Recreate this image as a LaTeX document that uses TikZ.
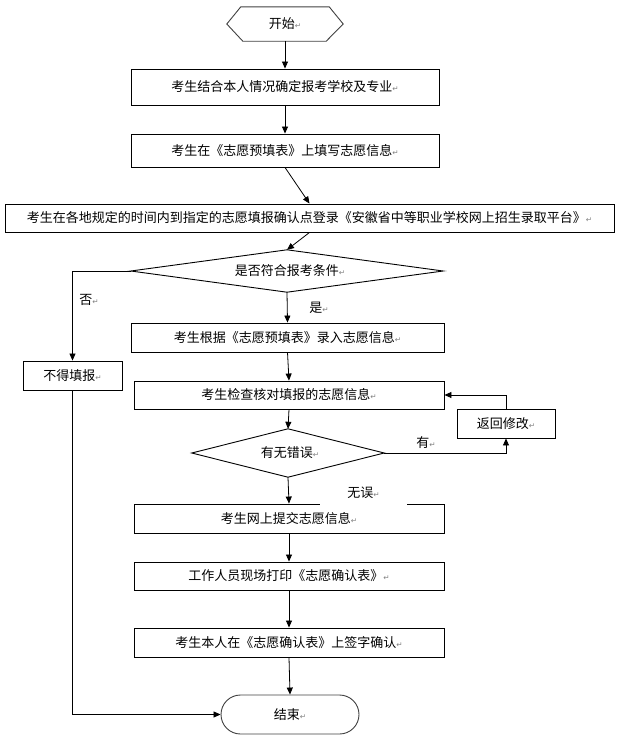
\documentclass[tikz,border=0pt]{standalone}
\usepackage{fontspec}
\setmainfont{Noto Sans CJK SC}
\newfontfamily\dvfont{DejaVu Sans}
\usetikzlibrary{arrows.meta}
\newcommand\pmk{{\dvfont\fontsize{7.5}{7.5}\selectfont\color{gray}↵}}
\tikzset{
  box/.style={draw, line width=0.9pt, inner sep=0pt, font=\fontsize{13}{15}\selectfont},
  dmd/.style={inner sep=0pt, font=\fontsize{13}{15}\selectfont},
  lbl/.style={inner sep=0pt, font=\fontsize{13}{15}\selectfont},
  arr/.style={line width=0.8pt, -{Triangle[length=7pt,width=6pt]}},
  ln/.style={line width=0.8pt}
}
\begin{document}
\begin{tikzpicture}[x=1pt,y=-1pt]
\useasboundingbox (0,0) rectangle (620,745);
% start hexagon
\node[dmd, minimum width=116pt, minimum height=34pt] (start) at (285,24) {开始\pmk};
\draw[line width=0.9pt, black!75] (start.west) -- ([xshift=14pt]start.north west) -- ([xshift=-14pt]start.north east) -- (start.east) -- ([xshift=-17pt]start.south east) -- ([xshift=16pt]start.south west) -- cycle;
% boxes
\node[box, minimum width=308pt, minimum height=36pt] (b1) at (285,87) {考生结合本人情况确定报考学校及专业\pmk};
\node[box, minimum width=308pt, minimum height=33pt] (b2) at (285,150.5) {考生在《志愿预填表》上填写志愿信息\pmk};
\node[box, minimum width=609pt, minimum height=28pt] (b4) at (309.5,218) {考生在各地规定的时间内到指定的志愿填报确认点登录《安徽省中等职业学校网上招生录取平台》\pmk};
% decision 1
\node[dmd, minimum width=312pt, minimum height=42pt] (d1) at (287,271) {};
\draw[line width=0.9pt] (d1.west) -- (d1.north) -- (d1.east) -- (d1.south) -- cycle;
\node[lbl] at (290,271) {是否符合报考条件\pmk};
\node[box, minimum width=313pt, minimum height=29pt] (b5) at (287.5,337.5) {考生根据《志愿预填表》录入志愿信息\pmk};
\node[box, minimum width=99pt, minimum height=29pt] (bno) at (72.5,375.5) {不得填报\pmk};
\node[box, minimum width=310pt, minimum height=28pt] (b6) at (289,395) {考生检查核对填报的志愿信息\pmk};
% decision 2
\node[dmd, minimum width=192pt, minimum height=48pt] (d2) at (288,453) {};
\draw[line width=0.9pt] (d2.west) -- (d2.north) -- (d2.east) -- (d2.south) -- cycle;
\node[lbl] at (290,453) {有无错误\pmk};
\node[box, minimum width=98pt, minimum height=29pt] (bret) at (506,423.5) {返回修改\pmk};
\node[box, minimum width=310pt, minimum height=29pt] (b7) at (289,518.5) {考生网上提交志愿信息\pmk};
\node[box, minimum width=310pt, minimum height=28pt] (b8) at (289,576) {工作人员现场打印《志愿确认表》\pmk};
\node[box, minimum width=310pt, minimum height=29pt] (b9) at (289,642.5) {考生本人在《志愿确认表》上签字确认\pmk};
\node[box, draw=black!75, minimum width=138pt, minimum height=39pt, rounded corners=19.5pt] (end) at (290,714.5) {结束\pmk};
% connectors
\draw[arr] (start.south) -- (b1.north);
\draw[arr] (b1.south) -- (b2.north);
\draw[arr] (b2.south) -- (b4.north);
\draw[arr] (b4.south) -- (d1.north);
\draw[arr] (d1.west) -| (bno.north);
\draw[arr] (d1.south) -- (b5.north);
\draw[arr] (b5.south) -- (b6.north);
\draw[arr] (b6.south) -- (d2.north);
\draw[arr] (d2.east) -| (bret.south);
\draw[arr] (bret.north) |- (b6.east);
\draw[arr] (d2.south) -- (b7.north);
\draw[arr] (b7.south) -- (b8.north);
\draw[arr] (b8.south) -- (b9.north);
\draw[arr] (b9.south) -- (end.north);
\draw[arr] (bno.south) |- (end.west);
% labels
\node[lbl] (lno) at (89,300) {否\pmk};
\node[lbl] (lyes) at (319,308) {是\pmk};
\node[lbl] (lhas) at (426,443) {有\pmk};
\node[lbl, fill=white, minimum width=87pt, minimum height=24pt] (lok) at (363.5,492.5) {无误\pmk};
\end{tikzpicture}
\end{document}
